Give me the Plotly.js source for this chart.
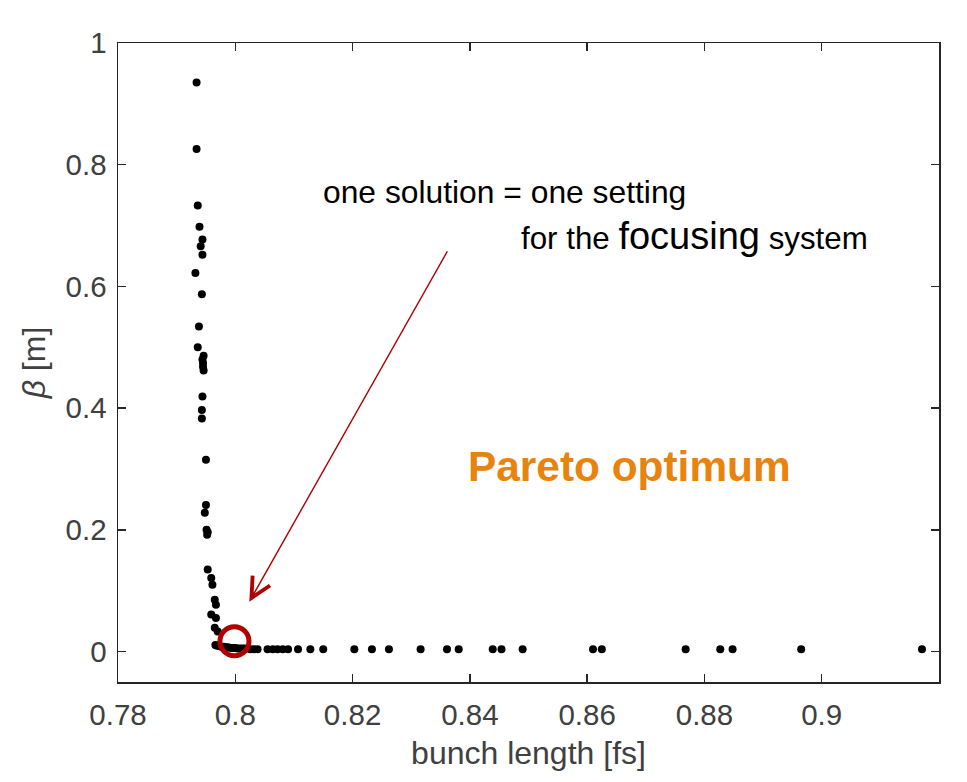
<!DOCTYPE html>
<html>
<head>
<meta charset="utf-8">
<script src="https://cdn.plot.ly/plotly-3.0.1.min.js"></script>
<style>html,body{margin:0;padding:0;background:#fff;}#chart{width:967px;height:782px;}</style>
</head>
<body>
<div id="chart"></div>
<script>
// Pareto front: bunch length [fs] vs beta [m]
const bunchLength = [
  0.7934, 0.7934, 0.7936, 0.7939, 0.7944, 0.7941, 0.7944, 0.7932, 0.7943, 0.7938,
  0.7936, 0.7946, 0.7944, 0.7945, 0.7945, 0.7946, 0.7944, 0.7943, 0.7943, 0.7950,
  0.7950, 0.7948, 0.7951, 0.7953, 0.7952, 0.7953, 0.7959, 0.7961, 0.7965, 0.7967,
  0.7959, 0.7967, 0.7965, 0.7970, 0.7966,
  0.7968, 0.7972, 0.7976, 0.7980, 0.7984, 0.7988, 0.7992, 0.7996, 0.8000, 0.8004,
  0.8008, 0.8012, 0.8016, 0.8021, 0.8026, 0.8032, 0.8038,
  0.8055, 0.8064, 0.8072, 0.8081, 0.8090, 0.8107, 0.8128, 0.8150, 0.8203, 0.8233,
  0.8262, 0.8316, 0.8361, 0.8381, 0.8439, 0.8454, 0.8490, 0.8610, 0.8625, 0.8768,
  0.8827, 0.8848, 0.8965, 0.9171
];
const beta = [
  0.935, 0.826, 0.733, 0.698, 0.677, 0.666, 0.652, 0.622, 0.587, 0.534,
  0.500, 0.486, 0.480, 0.474, 0.468, 0.462, 0.419, 0.397, 0.383, 0.315,
  0.241, 0.228, 0.200, 0.196, 0.192, 0.135, 0.121, 0.110, 0.085, 0.077,
  0.061, 0.055, 0.039, 0.033, 0.011,
  0.010, 0.009, 0.008, 0.008, 0.007, 0.007, 0.006, 0.006, 0.006, 0.005,
  0.005, 0.005, 0.005, 0.005, 0.004, 0.004, 0.004,
  0.004, 0.004, 0.004, 0.004, 0.004, 0.004, 0.004, 0.004, 0.004, 0.004,
  0.004, 0.004, 0.004, 0.004, 0.004, 0.004, 0.004, 0.004, 0.004, 0.004,
  0.004, 0.004, 0.004, 0.004
];
const xTickVals = [0.78, 0.80, 0.82, 0.84, 0.86, 0.88, 0.90, 0.92];
const xTickText = ["0.78", "0.8", "0.82", "0.84", "0.86", "0.88", "0.9", "0.92"];
const yTickVals = [0, 0.2, 0.4, 0.6, 0.8, 1];
const yTickText = ["0", "0.2", "0.4", "0.6", "0.8", "1"];

// annotation anchors (data coordinates)
const highlight = {x: 0.79986, y: 0.017};
const arrowTail = {x: 0.8363, y: 0.660};
const arrowHead = {x: 0.8024, y: 0.082};

const axisColor = '#262626';
const tickFont = {family: 'Liberation Sans, Arial, sans-serif', size: 29.5, color: '#404040'};
const titleFont = {family: 'Liberation Sans, Arial, sans-serif', size: 32, color: '#404040'};

const trace = {
  x: bunchLength, y: beta, type: 'scatter', mode: 'markers',
  marker: {color: '#000', size: 8}, hoverinfo: 'none', showlegend: false
};

const layout = {
  width: 967, height: 782,
  margin: {l: 118, r: 28, t: 43, b: 100},
  paper_bgcolor: '#fff', plot_bgcolor: '#fff',
  showlegend: false,
  xaxis: {
    range: [0.78, 0.92], tickvals: xTickVals, ticktext: xTickText,
    showgrid: false, zeroline: false, showline: true, mirror: 'ticks',
    linecolor: axisColor, linewidth: 1.5, ticks: 'inside', ticklen: 8,
    tickcolor: axisColor, tickwidth: 1.3, tickfont: tickFont, ticklabelstandoff: 6,
    title: {text: 'bunch length [fs]', font: titleFont, standoff: 11}
  },
  yaxis: {
    range: [-0.05, 1], tickvals: yTickVals, ticktext: yTickText,
    showgrid: false, zeroline: false, showline: true, mirror: 'ticks',
    linecolor: axisColor, linewidth: 1.5, ticks: 'inside', ticklen: 8,
    tickcolor: axisColor, tickwidth: 1.3, tickfont: tickFont, ticklabelstandoff: 4,
    title: {text: '<i>β</i> [m]', font: titleFont, standoff: 10}
  },
  shapes: [{
    type: 'circle', xref: 'x', yref: 'y',
    xsizemode: 'pixel', ysizemode: 'pixel',
    xanchor: highlight.x, yanchor: highlight.y,
    x0: -14.5, x1: 14.5, y0: -14.5, y1: 14.5,
    line: {color: '#B00000', width: 5}
  }],
  annotations: [
    {
      xref: 'x', yref: 'y', x: arrowHead.x, y: arrowHead.y,
      axref: 'x', ayref: 'y', ax: arrowTail.x, ay: arrowTail.y,
      text: '', showarrow: true, arrowhead: 5, arrowsize: 2.8, arrowwidth: 1.4,
      arrowcolor: '#B00000', standoff: 0, startstandoff: 0
    },
    {
      xref: 'x', yref: 'y', x: 0.8147, y: 0.755, xanchor: 'left', yanchor: 'middle',
      text: 'one solution = one setting', showarrow: false,
      font: {family: 'Liberation Sans, Arial, sans-serif', size: 31.8, color: '#000'}
    },
    {
      xref: 'x', yref: 'y', x: 0.8484, y: 0.683, xanchor: 'left', yanchor: 'middle',
      text: 'for the <span style="font-size:38px">focusing</span> system', showarrow: false,
      font: {family: 'Liberation Sans, Arial, sans-serif', size: 31.3, color: '#000'}
    },
    {
      xref: 'x', yref: 'y', x: 0.8672, y: 0.304, xanchor: 'center', yanchor: 'middle',
      text: '<b>Pareto optimum</b>', showarrow: false,
      font: {family: 'Liberation Sans, Arial, sans-serif', size: 42.4, color: '#E8830E'}
    }
  ]
};

Plotly.newPlot('chart', [trace], layout, {displayModeBar: false, staticPlot: true});
</script>
</body>
</html>
